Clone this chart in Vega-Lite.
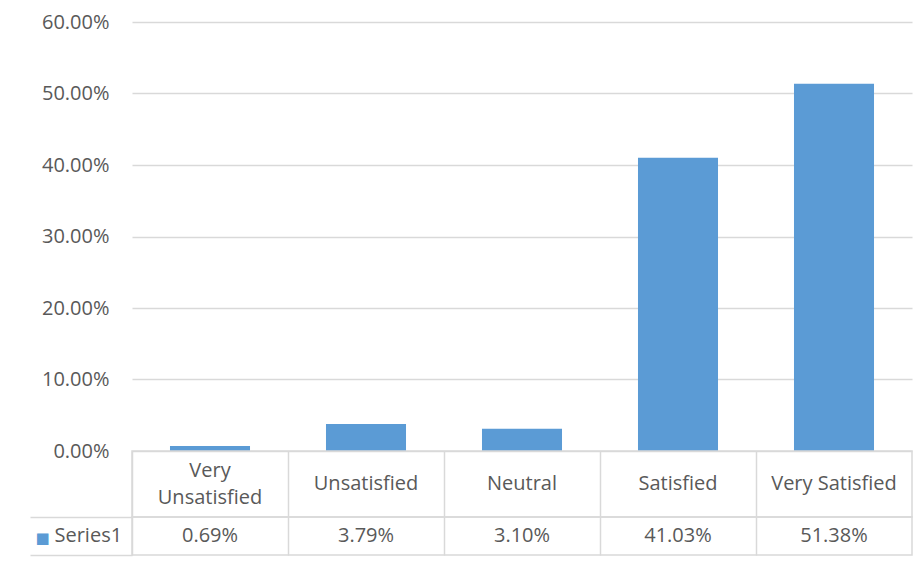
{
  "$schema": "https://vega.github.io/schema/vega-lite/v6.json",
  "autosize": {"type": "pad"},
  "padding": {"left": 28, "top": 12, "right": 1, "bottom": 5},
  "background": "white",
  "bounds": "flush",
  "spacing": 0,
  "config": {"font": "Open Sans", "view": {"stroke": "#D9D9D9", "strokeWidth": 1.5}},
  "resolve": {"scale": {"x": "independent", "y": "independent"}},
  "data": {"values": [
    {"category": "Very Unsatisfied", "label": "Very\nUnsatisfied", "value": 0.0069, "series": "Series1"},
    {"category": "Unsatisfied", "label": "Unsatisfied", "value": 0.0379, "series": "Series1"},
    {"category": "Neutral", "label": "Neutral", "value": 0.031, "series": "Series1"},
    {"category": "Satisfied", "label": "Satisfied", "value": 0.4103, "series": "Series1"},
    {"category": "Very Satisfied", "label": "Very Satisfied", "value": 0.5138, "series": "Series1"}
  ]},
  "vconcat": [
    {
      "width": 780, "height": 429,
      "view": {"stroke": null},
      "mark": {"type": "bar", "color": "#5B9BD5"},
      "encoding": {
        "x": {"field": "category", "type": "nominal", "sort": null, "scale": {"domain": ["Very Unsatisfied", "Unsatisfied", "Neutral", "Satisfied", "Very Satisfied"], "paddingInner": 0.487, "paddingOuter": 0.2435}, "axis": null},
        "y": {"field": "value", "type": "quantitative", "scale": {"domain": [0, 0.6], "nice": false},
          "axis": {"values": [0, 0.1, 0.2, 0.3, 0.4, 0.5, 0.6], "format": ".2%", "title": null, "domain": false, "ticks": false,
            "labelPadding": 23, "labelFontSize": 20, "labelColor": "#595959", "gridColor": "#D9D9D9", "gridWidth": 1.5}}
      }
    },
    {
      "width": 780, "height": 66,
      "encoding": {
        "x": {"field": "category", "type": "nominal", "sort": null, "scale": {"type": "band", "domain": ["Very Unsatisfied", "Unsatisfied", "Neutral", "Satisfied", "Very Satisfied"], "paddingInner": 0, "paddingOuter": 0},
          "axis": {"title": null, "labels": false, "ticks": false, "domain": false, "grid": true, "bandPosition": 0, "gridColor": "#D9D9D9", "gridWidth": 1.5}},
        "y": {"datum": "c", "type": "nominal", "scale": {"type": "band", "paddingInner": 0, "paddingOuter": 0},
          "axis": {"title": null, "labels": false, "domain": false, "ticks": true, "tickSize": 102, "bandPosition": 1, "tickColor": "#D9D9D9", "tickWidth": 1.5}},
        "text": {"field": "label"}
      },
      "layer": [
        {
          "transform": [{"filter": "indexof(datum.label, '\\n') < 0"}],
          "mark": {"type": "text", "fontSize": 20, "color": "#595959"}
        },
        {
          "transform": [{"filter": "indexof(datum.label, '\\n') >= 0"}],
          "mark": {"type": "text", "fontSize": 20, "color": "#595959", "lineBreak": "\n", "lineHeight": 27, "dy": -13}
        }
      ]
    },
    {
      "width": 780, "height": 38,
      "mark": {"type": "text", "fontSize": 20, "color": "#595959"},
      "encoding": {
        "x": {"field": "category", "type": "nominal", "sort": null, "scale": {"type": "band", "domain": ["Very Unsatisfied", "Unsatisfied", "Neutral", "Satisfied", "Very Satisfied"], "paddingInner": 0, "paddingOuter": 0},
          "axis": {"title": null, "labels": false, "ticks": false, "domain": false, "grid": true, "bandPosition": 0, "gridColor": "#D9D9D9", "gridWidth": 1.5}},
        "y": {"field": "series", "type": "nominal", "scale": {"type": "band", "paddingInner": 0, "paddingOuter": 0},
          "axis": {"title": "■", "titleColor": "#5B9BD5", "titleAngle": 0, "titleAlign": "left", "titleBaseline": "middle",
            "titleX": -97, "titleY": 20, "titleFont": "DejaVu Sans", "titleFontSize": 15, "titleFontWeight": "normal",
            "labelAlign": "left", "labelBaseline": "middle", "labelPadding": -24, "labelFontSize": 20, "labelColor": "#595959",
            "domain": false, "ticks": true, "tickSize": 102, "bandPosition": 1, "tickColor": "#D9D9D9", "tickWidth": 1.5}},
        "text": {"field": "value", "type": "quantitative", "format": ".2%"}
      }
    }
  ]
}
